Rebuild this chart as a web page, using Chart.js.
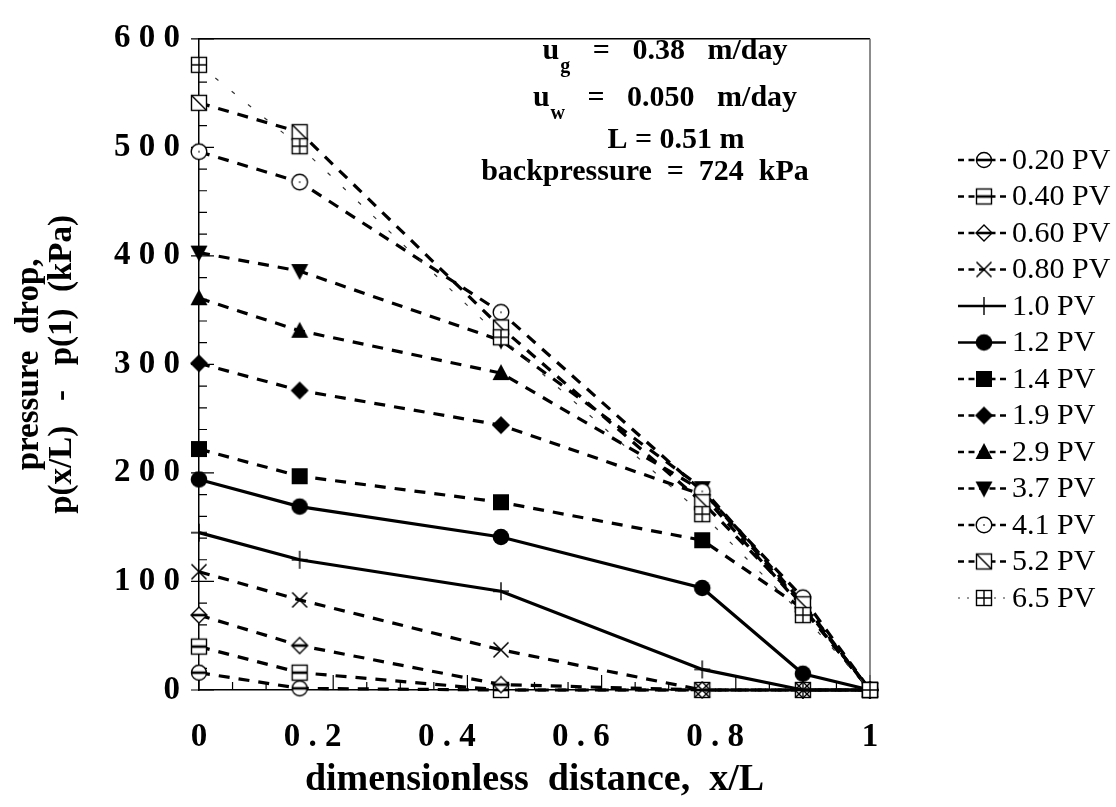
<!DOCTYPE html>
<html>
<head>
<meta charset="utf-8">
<script src="https://cdn.jsdelivr.net/npm/chart.js@4.4.1/dist/chart.umd.min.js"></script>
<style>
  html, body { margin: 0; padding: 0; background: #fff; }
  #wrap { width: 1116px; height: 807px; position: relative; }
</style>
</head>
<body>
<div id="wrap"><canvas id="grafico"></canvas></div>
<script>
// posiciones adimensionales x/L donde se midio la presion
const xPositions = [0, 0.15, 0.45, 0.75, 0.9, 1];

// nombres de las series (volumenes de poro inyectados)
const pvLabels = ['0.20 PV', '0.40 PV', '0.60 PV', '0.80 PV', '1.0 PV', '1.2 PV', '1.4 PV',
                  '1.9 PV', '2.9 PV', '3.7 PV', '4.1 PV', '5.2 PV', '6.5 PV'];

// caida de presion p(x/L) - p(1) en kPa
const pv020 = [16, 1.5, 0, 0, 0, 0];
const pv040 = [40, 16, 0, 0, 0, 0];
const pv060 = [69, 41, 5, 0, 0, 0];
const pv080 = [109, 83, 37, 0, 0, 0];
const pv100 = [145, 120, 91, 19, 0, 0];
const pv120 = [194, 169, 141, 94, 15, 0];
const pv140 = [222, 197, 173, 138, 75, 0];
const pv190 = [301, 276, 244, 180, 76, 0];
const pv290 = [361, 331, 292, 184, 78, 0];
const pv370 = [403, 386, 322, 186, 80, 0];
const pv410 = [496, 468, 348, 183, 85, 0];
const pv520 = [541, 514, 334, 173, 79, 0];
const pv650 = [576, 501, 325, 162, 69, 0];

// etiquetas de los ejes
const xTickLabels = ['0', '0.2', '0.4', '0.6', '0.8', '1'];
const yTickLabels = ['0', '100', '200', '300', '400', '500', '600'];

// texto del recuadro de condiciones
const noteLines = [
  { main: 'u', sub: 'g', rest: '   =   0.38   m/day' },
  { main: 'u', sub: 'w', rest: '   =   0.050   m/day' },
  { main: 'L = 0.51 m', sub: '', rest: '' },
  { main: 'backpressure  =  724  kPa', sub: '', rest: '' }
];

const seriesValues = [pv020, pv040, pv060, pv080, pv100, pv120, pv140,
                      pv190, pv290, pv370, pv410, pv520, pv650];
const markerKinds = ['circleBar', 'squareBar', 'diamondBar', 'cross', 'plus', 'dot', 'square',
                     'diamond', 'triUp', 'triDown', 'circleDot', 'squareDiag', 'squareGrid'];
const solidSeries = [4, 5];

const SERIF = '"Liberation Serif", "Times New Roman", serif';
Chart.defaults.font.family = SERIF;
Chart.defaults.color = '#000';

// las etiquetas del original van con letras separadas y las de en medio corridas a la izquierda
const spaced = s => s.split('').join(' ') + (s.includes('.') ? '\u00a0\u00a0\u00a0\u00a0\u00a0' : '');

// dibuja cada marcador en un canvas chiquito para usarlo como pointStyle
function makeMarker(kind) {
  const s = 26, c = s / 2;
  const cv = document.createElement('canvas');
  cv.width = s; cv.height = s;
  const g = cv.getContext('2d');
  g.strokeStyle = '#000';
  g.fillStyle = '#fff';
  g.lineWidth = 1.4;
  const bar = (w) => { g.beginPath(); g.moveTo(c - w, c); g.lineTo(c + w, c); g.lineWidth = 2.6; g.stroke(); g.lineWidth = 1.4; };
  switch (kind) {
    case 'circleBar':
      g.beginPath(); g.arc(c, c, 7.5, 0, Math.PI * 2); g.fill(); g.stroke(); bar(7.5); break;
    case 'squareBar':
      g.fillRect(c - 7.5, c - 7.5, 15, 15); g.strokeRect(c - 7.5, c - 7.5, 15, 15); bar(7.5); break;
    case 'diamondBar':
      g.beginPath(); g.moveTo(c, c - 8); g.lineTo(c + 8, c); g.lineTo(c, c + 8); g.lineTo(c - 8, c); g.closePath();
      g.fill(); g.stroke(); bar(7); break;
    case 'cross':
      g.beginPath(); g.moveTo(c - 7.5, c - 7.5); g.lineTo(c + 7.5, c + 7.5); g.moveTo(c + 7.5, c - 7.5); g.lineTo(c - 7.5, c + 7.5);
      g.lineWidth = 1.5; g.stroke(); break;
    case 'plus':
      g.beginPath(); g.moveTo(c, c - 9); g.lineTo(c, c + 9); g.moveTo(c - 8, c); g.lineTo(c + 8, c);
      g.lineWidth = 1.4; g.stroke(); break;
    case 'dot':
      g.fillStyle = '#000'; g.beginPath(); g.arc(c, c, 8.3, 0, Math.PI * 2); g.fill(); break;
    case 'square':
      g.fillStyle = '#000'; g.fillRect(c - 8, c - 8, 16, 16); break;
    case 'diamond':
      g.fillStyle = '#000'; g.beginPath(); g.moveTo(c, c - 9); g.lineTo(c + 9, c); g.lineTo(c, c + 9); g.lineTo(c - 9, c); g.closePath(); g.fill(); break;
    case 'triUp':
      g.fillStyle = '#000'; g.beginPath(); g.moveTo(c, c - 9); g.lineTo(c + 8.5, c + 7); g.lineTo(c - 8.5, c + 7); g.closePath(); g.fill(); break;
    case 'triDown':
      g.fillStyle = '#000'; g.beginPath(); g.moveTo(c, c + 9); g.lineTo(c + 8.5, c - 7); g.lineTo(c - 8.5, c - 7); g.closePath(); g.fill(); break;
    case 'circleDot':
      g.beginPath(); g.arc(c, c, 7.8, 0, Math.PI * 2); g.fill(); g.stroke();
      g.fillStyle = '#000'; g.fillRect(c - 0.7, c - 0.7, 1.4, 1.4); break;
    case 'squareDiag':
      g.fillRect(c - 7.5, c - 7.5, 15, 15); g.strokeRect(c - 7.5, c - 7.5, 15, 15);
      g.beginPath(); g.moveTo(c - 7.5, c - 7.5); g.lineTo(c + 7.5, c + 7.5); g.stroke(); break;
    case 'squareGrid':
      g.fillRect(c - 7.5, c - 7.5, 15, 15); g.strokeRect(c - 7.5, c - 7.5, 15, 15);
      g.beginPath(); g.moveTo(c, c - 7.5); g.lineTo(c, c + 7.5); g.moveTo(c - 7.5, c); g.lineTo(c + 7.5, c); g.stroke(); break;
  }
  return cv;
}

const datasets = pvLabels.map((label, i) => {
  const solid = solidSeries.includes(i);
  const faint = i === pvLabels.length - 1;
  return {
    label: label,
    data: xPositions.map((x, j) => ({ x: x, y: seriesValues[i][j] })),
    borderColor: faint ? '#333' : '#000',
    borderWidth: faint ? 1.2 : 3.2,
    borderDash: solid ? [] : (faint ? [4, 17] : [11, 9]),
    pointStyle: makeMarker(markerKinds[i]),
    pointRadius: 8,
    tension: 0,
    fill: false,
    clip: false,
    order: -i
  };
});

// marcas de los ejes hacia adentro y el marco de arriba/derecha
const ticksAndFrame = {
  id: 'ticksAndFrame',
  beforeDatasetsDraw(chart) {
    const { ctx, chartArea: a, scales: { x, y } } = chart;
    ctx.save();
    ctx.strokeStyle = '#000';
    ctx.lineWidth = 1.2;
    ctx.beginPath();
    for (let k = 0; k <= 20; k++) {
      const px = x.getPixelForValue(k * 0.05);
      const len = k % 4 === 0 ? 15 : 8;
      ctx.moveTo(px, a.bottom); ctx.lineTo(px, a.bottom - len);
    }
    for (let k = 0; k <= 30; k++) {
      const py = y.getPixelForValue(k * 20);
      const major = k % 5 === 0;
      ctx.moveTo(a.left - (major ? 8 : 0), py); ctx.lineTo(a.left + (major ? 15 : 8), py);
    }
    ctx.stroke();
    ctx.lineWidth = 1.5;
    ctx.beginPath(); ctx.moveTo(a.left, a.top); ctx.lineTo(a.right, a.top); ctx.stroke();
    ctx.strokeStyle = '#666';
    ctx.beginPath(); ctx.moveTo(a.right, a.top); ctx.lineTo(a.right, a.bottom); ctx.stroke();
    ctx.restore();
  }
};

// leyenda a la derecha: linea + marcador + texto
const sideLegend = {
  id: 'sideLegend',
  afterDraw(chart) {
    const ctx = chart.ctx;
    ctx.save();
    ctx.font = '30px ' + SERIF;
    ctx.textBaseline = 'middle';
    ctx.fillStyle = '#000';
    chart.data.datasets.forEach((ds, i) => {
      const yy = 160 + i * 36.5;
      const faint = i === chart.data.datasets.length - 1;
      ctx.save();
      ctx.strokeStyle = ds.borderColor;
      ctx.lineWidth = faint ? 1 : 2.6;
      ctx.setLineDash(ds.borderDash.length ? (faint ? [2, 7] : [6, 4.5]) : []);
      ctx.beginPath(); ctx.moveTo(958, yy); ctx.lineTo(1006, yy); ctx.stroke();
      ctx.restore();
      const img = ds.pointStyle;
      ctx.drawImage(img, 984 - img.width / 2, yy - img.height / 2);
      ctx.fillText(ds.label, 1012, yy + 1);
    });
    ctx.restore();
  }
};

// recuadro con las condiciones del experimento
const conditionsNote = {
  id: 'conditionsNote',
  afterDraw(chart) {
    const ctx = chart.ctx;
    const baselines = [59, 106, 148, 180];
    const centers = [665, 665, 676, 645];
    const big = 'bold 30px ' + SERIF, small = 'bold 20px ' + SERIF;
    ctx.save();
    ctx.fillStyle = '#000';
    ctx.textBaseline = 'alphabetic';
    noteLines.forEach((ln, i) => {
      ctx.font = big; const w1 = ctx.measureText(ln.main).width; const w3 = ctx.measureText(ln.rest).width;
      ctx.font = small; const w2 = ln.sub ? ctx.measureText(ln.sub).width + 1 : 0;
      let px = centers[i] - (w1 + w2 + w3) / 2;
      ctx.font = big; ctx.fillText(ln.main, px, baselines[i]); px += w1;
      if (ln.sub) { ctx.font = small; ctx.fillText(ln.sub, px + 1, baselines[i] + 13); px += w2; }
      ctx.font = big; ctx.fillText(ln.rest, px, baselines[i]);
    });
    ctx.restore();
  }
};

new Chart(document.getElementById('grafico'), {
  type: 'line',
  data: { datasets: datasets },
  options: {
    responsive: true,
    maintainAspectRatio: false,
    animation: false,
    layout: { padding: { top: 22, right: 246, left: 0, bottom: 0 } },
    plugins: {
      legend: { display: false },
      tooltip: { enabled: false }
    },
    scales: {
      x: {
        type: 'linear',
        min: 0,
        max: 1,
        border: { display: true, color: '#000', width: 1.5 },
        grid: { display: false, drawTicks: false },
        ticks: {
          stepSize: 0.2,
          autoSkip: false,
          maxRotation: 0,
          padding: 28,
          color: '#000',
          font: { size: 33, weight: 'bold' },
          callback: (v, i) => spaced(xTickLabels[i] || '')
        },
        title: {
          display: true,
          text: 'dimensionless  distance,  x/L',
          color: '#000',
          font: { size: 38, weight: 'bold', lineHeight: 1 },
          padding: { top: 0, bottom: 8 }
        },
        afterFit: s => { s.height = 117; }
      },
      y: {
        min: 0,
        max: 600,
        border: { display: true, color: '#000', width: 1.5 },
        grid: { display: false, drawTicks: false },
        ticks: {
          stepSize: 100,
          padding: 19,
          color: '#000',
          font: { size: 33, weight: 'bold' },
          callback: (v, i) => yTickLabels[i] ? yTickLabels[i].split('').join(' ') : ''
        },
        title: {
          display: true,
          text: ['pressure  drop,', 'p(x/L)   -   p(1)  (kPa)'],
          color: '#000',
          font: { size: 33, weight: 'bold', lineHeight: 1 },
          padding: { top: 13, bottom: 0 }
        },
        afterFit: s => { s.width = 199; }
      }
    }
  },
  plugins: [ticksAndFrame, sideLegend, conditionsNote]
});
</script>
</body>
</html>
